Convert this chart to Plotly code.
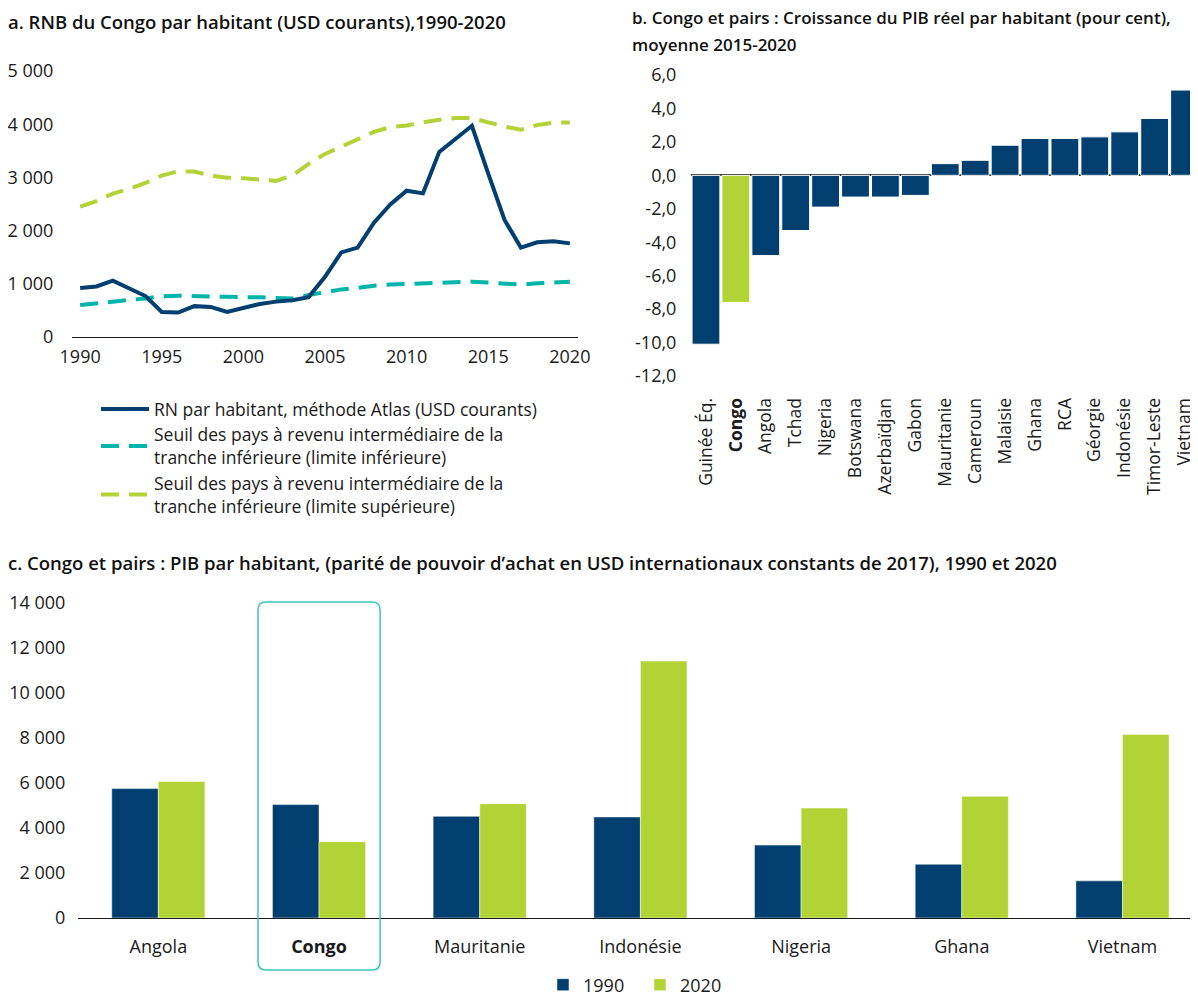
import plotly.graph_objects as go

W, H = 1198, 1001
PAD = 8  # page body margin round the figure

BLUE = "#003F6F"
GREEN = "#B3D236"
TEAL = "#00B5AA"
BOX = "#3CC4BB"
FONT = "Open Sans"

# -- panel a : GNI per capita, Atlas method --
years = list(range(1990, 2021))
gni_atlas = [920, 950, 1060, 910, 770, 470, 460, 580, 565, 470, 550, 620, 665, 690,
             750, 1130, 1590, 1680, 2150, 2490, 2750, 2700, 3480, 3730, 3970, 3070,
             2200, 1680, 1780, 1800, 1760]
lmic_lower = [600, 635, 675, 695, 725, 765, 775, 775, 760, 755, 755, 745, 735, 725,
              790, 840, 895, 925, 965, 985, 995, 1015, 1025, 1035, 1040, 1025, 1000,
              985, 1010, 1030, 1040]
lmic_upper = [2450, 2555, 2695, 2785, 2895, 3035, 3115, 3110, 3030, 2995, 2985, 2965,
              2935, 3035, 3255, 3440, 3580, 3705, 3855, 3945, 3975, 4035, 4085, 4115,
              4115, 4035, 3955, 3895, 3985, 4030, 4030]
a_ticks = [1990, 1995, 2000, 2005, 2010, 2015, 2020]

# -- panel b : real GDP per capita growth, 2015-2020 average --
peers_b = ["Guinée Éq.", "Congo", "Angola", "Tchad", "Nigeria", "Botswana",
           "Azerbaïdjan", "Gabon", "Mauritanie", "Cameroun", "Malaisie", "Ghana",
           "RCA", "Géorgie", "Indonésie", "Timor-Leste", "Vietnam"]
growth_b = [-10.1, -7.6, -4.8, -3.3, -1.9, -1.3, -1.3, -1.2, 0.7, 0.9, 1.8, 2.2,
            2.2, 2.3, 2.6, 3.4, 5.1]
b_ticks = [-12, -10, -8, -6, -4, -2, 0, 2, 4, 6]

# -- panel c : GDP per capita PPP, 1990 and 2020 --
peers_c = ["Angola", "Congo", "Mauritanie", "Indonésie", "Nigeria", "Ghana", "Vietnam"]
gdp_1990 = [5750, 5040, 4520, 4490, 3240, 2390, 1650]
gdp_2020 = [6070, 3390, 5080, 11420, 4890, 5410, 8160]

FW, FH = W - PAD, H - PAD


def px(x):
    return (x - PAD) / FW


def py(y):
    return 1 - (y - PAD) / FH


fig = go.Figure()

# panel a
fig.add_trace(go.Scatter(
    x=years, y=lmic_lower, mode="lines", xaxis="x", yaxis="y",
    line={"color": TEAL, "width": 4, "dash": "18px,10px"},
    name="Seuil des pays à revenu intermédiaire de la<br>tranche inférieure (limite inférieure)",
    legendrank=2,
))
fig.add_trace(go.Scatter(
    x=years, y=lmic_upper, mode="lines", xaxis="x", yaxis="y",
    line={"color": GREEN, "width": 4, "dash": "18px,10px"},
    name="Seuil des pays à revenu intermédiaire de la<br>tranche inférieure (limite supérieure)",
    legendrank=3,
))
fig.add_trace(go.Scatter(
    x=years, y=gni_atlas, mode="lines", xaxis="x", yaxis="y",
    line={"color": BLUE, "width": 4},
    name="RN par habitant, méthode Atlas (USD courants)",
    legendrank=1,
))

# panel b
fig.add_trace(go.Bar(
    x=peers_b, y=growth_b, xaxis="x2", yaxis="y2", showlegend=False, width=0.93,
    marker={"color": [GREEN if p == "Congo" else BLUE for p in peers_b],
            "line": {"color": "white", "width": 1}},
))

# panel c : explicit offsets so the pairs stay narrow
bw = 0.29
fig.add_trace(go.Bar(
    x=peers_c, y=gdp_1990, xaxis="x3", yaxis="y3", name="1990", legend="legend2",
    width=bw, offset=-bw,
    marker={"color": BLUE, "line": {"color": "white", "width": 0.5}},
))
fig.add_trace(go.Bar(
    x=peers_c, y=gdp_2020, xaxis="x3", yaxis="y3", name="2020", legend="legend2",
    width=bw, offset=0,
    marker={"color": GREEN, "line": {"color": "white", "width": 0.5}},
))

# highlight box round Congo in panel c
c_dom = [px(78), px(1198)]
c_rng = [-0.5, 6.47]
ci = peers_c.index("Congo")


def c_to_paper(v):
    return c_dom[0] + (v - c_rng[0]) / (c_rng[1] - c_rng[0]) * (c_dom[1] - c_dom[0])


bx0, bx1 = c_to_paper(ci - 0.38), c_to_paper(ci + 0.38)
by0, by1 = py(970), py(602)
rx, ry = 8 / FW, 8 / FH
box_path = (
    f"M {bx0 + rx},{by1} L {bx1 - rx},{by1} Q {bx1},{by1} {bx1},{by1 - ry} "
    f"L {bx1},{by0 + ry} Q {bx1},{by0} {bx1 - rx},{by0} "
    f"L {bx0 + rx},{by0} Q {bx0},{by0} {bx0},{by0 + ry} "
    f"L {bx0},{by1 - ry} Q {bx0},{by1} {bx0 + rx},{by1} Z"
)

titles = [
    (6, 22, 18.5, "a. RNB du Congo par habitant (USD courants),1990-2020"),
    (630, 18, 17, "b. Congo et pairs : Croissance du PIB réel par habitant (pour cent),"),
    (630, 45, 17, "moyenne 2015-2020"),
    (6, 562, 18.5, "c. Congo et pairs : PIB par habitant, (parité de pouvoir d’achat en USD "
                   "internationaux constants de 2017), 1990 et 2020"),
]

FS = 18
tick_font = {"family": FONT, "size": FS, "color": "#1a1a1a"}

fig.update_layout(
    width=FW, height=FH,
    margin={"l": 0, "r": 0, "t": 0, "b": 0, "autoexpand": False},
    paper_bgcolor="white", plot_bgcolor="white",
    font={"family": FONT, "size": FS, "color": "#1a1a1a"},
    separators=", ",
    barmode="overlay",
    showlegend=True,
    xaxis={"domain": [px(72), px(578)], "anchor": "y", "range": [1989.5, 2020.5],
           "tickvals": a_ticks, "showgrid": False, "zeroline": False,
           "showline": True, "linecolor": "#1a1a1a", "linewidth": 1,
           "ticks": "outside", "ticklen": 3, "tickcolor": "rgba(0,0,0,0)",
           "tickfont": tick_font, "automargin": False},
    yaxis={"domain": [py(337), py(71)], "anchor": "x", "range": [0, 5000],
           "tickvals": [0, 1000, 2000, 3000, 4000, 5000], "tickformat": ",d",
           "showgrid": False, "zeroline": False, "tickfont": tick_font,
           "ticks": "outside", "ticklen": 14, "tickcolor": "rgba(0,0,0,0)",
           "automargin": False},
    xaxis2={"domain": [px(691), px(1198)], "anchor": "y2", "range": [-0.5, 16.45],
            "tickvals": peers_b,
            "ticktext": [f"<b>{p}</b>" if p == "Congo" else p for p in peers_b],
            "tickangle": -90, "showgrid": False, "zeroline": False, "showline": False,
            "ticks": "outside", "ticklen": 14, "tickcolor": "rgba(0,0,0,0)",
            "tickfont": {"family": FONT, "size": 17.5, "color": "#1a1a1a"},
            "automargin": False},
    yaxis2={"domain": [py(376), py(75)], "anchor": "x2", "range": [-12, 6],
            "tickvals": b_ticks,
            "ticktext": [f"{v:.1f}".replace(".", ",") for v in b_ticks],
            "showgrid": False, "zeroline": True, "zerolinecolor": "#333333",
            "zerolinewidth": 1.5, "tickfont": tick_font,
            "ticks": "outside", "ticklen": 10, "tickcolor": "rgba(0,0,0,0)",
            "automargin": False},
    xaxis3={"domain": c_dom, "anchor": "y3", "range": c_rng,
            "tickvals": peers_c,
            "ticktext": [f"<b>{p}</b>" if p == "Congo" else p for p in peers_c],
            "showgrid": False, "zeroline": False,
            "showline": True, "linecolor": "#1a1a1a", "linewidth": 1,
            "ticks": "outside", "ticklen": 12, "tickcolor": "rgba(0,0,0,0)",
            "tickfont": tick_font, "automargin": False},
    yaxis3={"domain": [py(918), py(603)], "anchor": "x3", "range": [0, 14000],
            "tickvals": list(range(0, 14001, 2000)), "tickformat": ",d",
            "showgrid": False, "zeroline": False, "tickfont": tick_font,
            "ticks": "outside", "ticklen": 8, "tickcolor": "rgba(0,0,0,0)",
            "automargin": False},
    legend={"x": px(96), "y": py(391), "xanchor": "left", "yanchor": "top",
            "font": {"family": FONT, "size": 17.5}, "itemwidth": 48,
            "bgcolor": "rgba(0,0,0,0)", "tracegroupgap": 0},
    legend2={"x": px(543), "y": py(985), "xanchor": "left", "yanchor": "middle",
             "orientation": "h", "font": {"family": FONT, "size": FS},
             "entrywidth": 52, "entrywidthmode": "pixels",
             "bgcolor": "rgba(0,0,0,0)"},
    shapes=[{"type": "path", "path": box_path, "xref": "paper", "yref": "paper",
             "line": {"color": BOX, "width": 1.5}, "layer": "above"}],
    annotations=[
        {"x": px(x), "y": py(y), "xref": "paper", "yref": "paper", "text": t,
         "showarrow": False, "xanchor": "left", "yanchor": "middle",
         "font": {"family": FONT, "size": s, "color": "#111111", "weight": 600}}
        for x, y, s, t in titles
    ],
)

fig.write_html("out.html")
